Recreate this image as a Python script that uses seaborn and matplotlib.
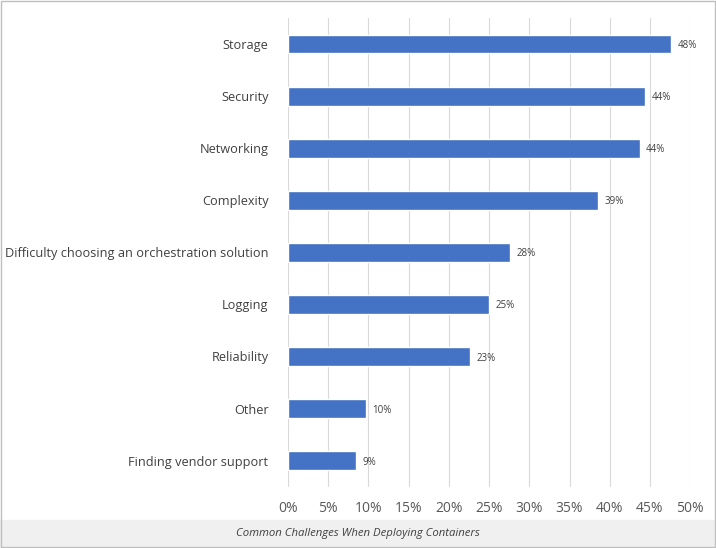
import matplotlib
matplotlib.use('Agg')
import matplotlib.pyplot as plt
import seaborn as sns
import pandas as pd

categories = ['Storage', 'Security', 'Networking', 'Complexity',
              'Difficulty choosing an orchestration solution', 'Logging',
              'Reliability', 'Other', 'Finding vendor support']
values = [47.6, 44.4, 43.7, 38.6, 27.6, 25.0, 22.6, 9.7, 8.5]
labels = ['48%', '44%', '44%', '39%', '28%', '25%', '23%', '10%', '9%']
ticks = [0, 5, 10, 15, 20, 25, 30, 35, 40, 45, 50]

df = pd.DataFrame({'challenge': categories, 'pct': values})

sns.set_style('white')
plt.rcParams['font.family'] = ['Open Sans', 'DejaVu Sans']

fig = plt.figure(figsize=(7.16, 5.48), dpi=100)
ax = fig.add_axes([0.402, 0.112, 0.562, 0.855])
sns.barplot(data=df, x='pct', y='challenge', color='#4472C4', width=0.36,
            saturation=1, ax=ax, zorder=3)

for i, (v, lab) in enumerate(zip(values, labels)):
    ax.text(v + 0.8, i + 0.03, lab, va='center', ha='left', fontsize=7, color='#404040')

ax.set_xlim(0, 50)
ax.set_xticks(ticks)
ax.set_xticklabels([f'{t}%' for t in ticks], fontsize=10, color='#595959')
ax.tick_params(axis='y', labelsize=9.2, labelcolor='#404040', length=0, pad=14)
ax.tick_params(axis='x', length=0, pad=10)
ax.xaxis.grid(True, color='#d9d9d9', linewidth=0.8, zorder=0)
ax.set_xlabel('')
ax.set_ylabel('')
for s in ax.spines.values():
    s.set_visible(False)

# caption strip
fig.patches.append(plt.Rectangle((0, 0), 1, 0.052, transform=fig.transFigure,
                                 color='#f0f0f0', zorder=0))
fig.text(0.5, 0.026, 'Common Challenges When Deploying Containers', ha='center',
         va='center', fontsize=8.2, style='italic', color='#404040')
fig.patches.append(plt.Rectangle((0.001, 0.001), 0.998, 0.998, transform=fig.transFigure,
                                 fill=False, edgecolor='#bfbfbf', linewidth=1))

fig.savefig('out.png', dpi=100)
